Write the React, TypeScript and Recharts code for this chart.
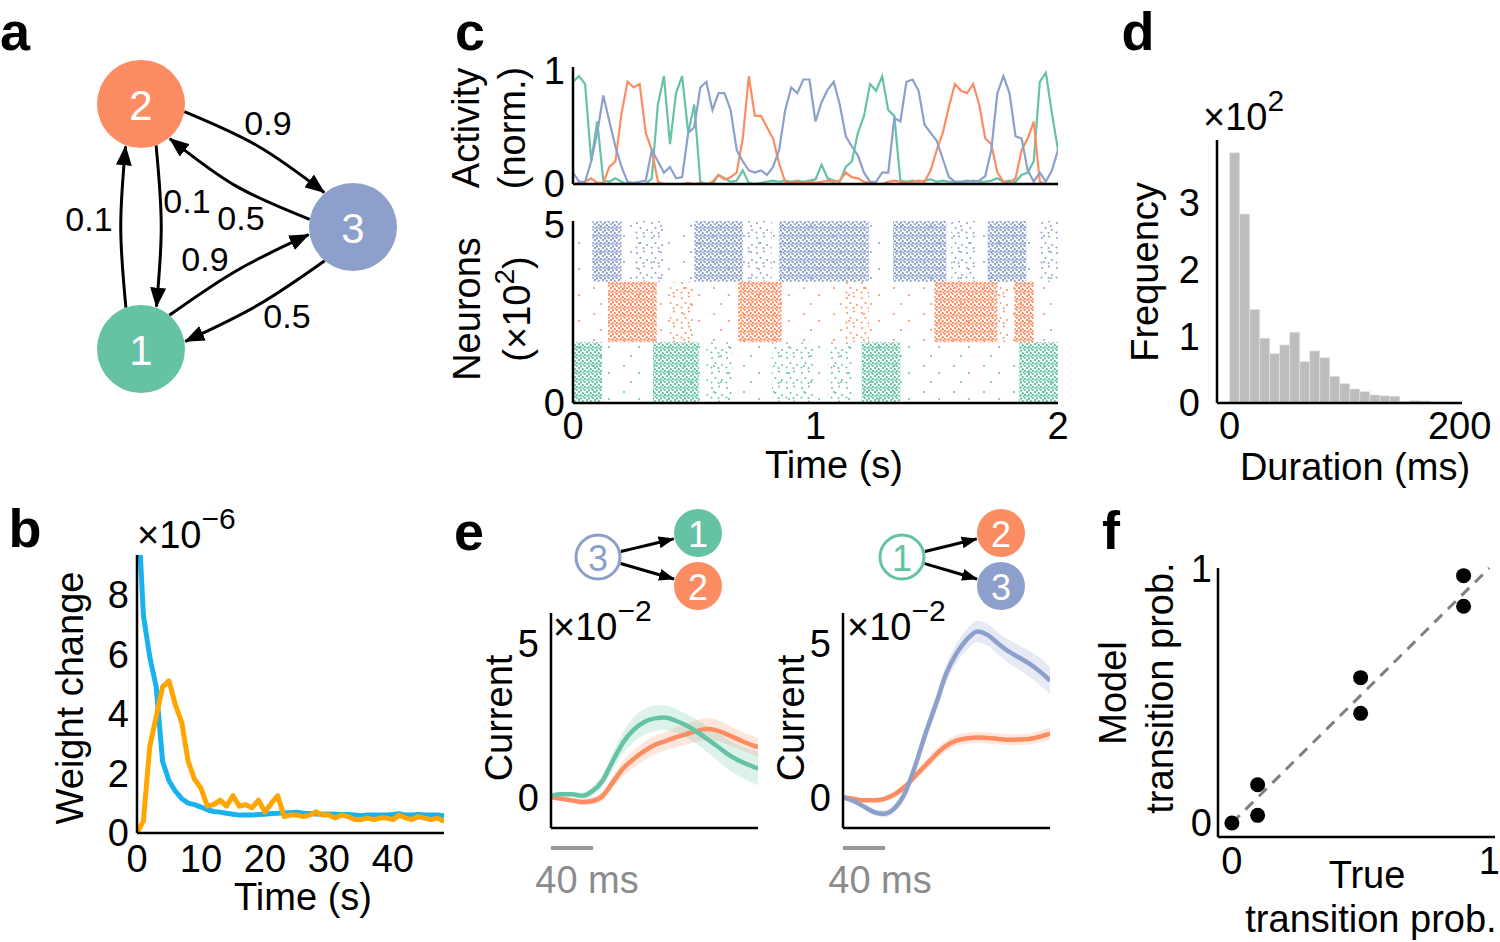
import React from "react";
import {
  ComposedChart,
  LineChart,
  Line,
  Bar,
  Area,
  Scatter,
  XAxis,
  YAxis,
  ReferenceArea,
  ReferenceLine,
} from "recharts";

const FONT = '"Liberation Sans", Arial, Helvetica, sans-serif';
const GREEN = "#66c2a5";
const ORANGE = "#fc8d62";
const BLUE = "#8da0cb";

// ---- panel a: transition graph ----
const graphNodes = [
  { id: "2", x: 141, y: 104, r: 44 },
  { id: "3", x: 353, y: 227, r: 44 },
  { id: "1", x: 141, y: 349, r: 44 },
];
const graphEdges = [
  { from: "2", to: "3", p: "0.9", bend: 7, lx: 268, ly: 123 },
  { from: "3", to: "2", p: "0.5", bend: 8, lx: 241, ly: 218 },
  { from: "2", to: "1", p: "0.1", bend: 5, lx: 187, ly: 201 },
  { from: "1", to: "2", p: "0.1", bend: 5, lx: 89, ly: 219 },
  { from: "1", to: "3", p: "0.9", bend: 5, lx: 205, ly: 259 },
  { from: "3", to: "1", p: "0.5", bend: 5, lx: 287, ly: 316 },
];

// ---- panel b: weight change ----
const weightTime = [
  0, 1, 2, 3, 4, 5, 6, 7, 8, 9, 10, 11, 12, 13, 14, 15, 16, 17, 18, 19, 20, 21, 22, 23, 24,
  25, 26, 27, 28, 29, 30, 31, 32, 33, 34, 35, 36, 37, 38, 39, 40, 41, 42, 43, 44, 45, 46, 47, 48,
];
const weightBlue = [
  11.5, 7.3, 5.9, 4.9, 2.4, 1.75, 1.4, 1.15, 1.0, 0.95, 0.87, 0.78, 0.72, 0.7, 0.66, 0.63, 0.6,
  0.6, 0.6, 0.62, 0.63, 0.65, 0.66, 0.68, 0.68, 0.7, 0.66, 0.65, 0.64, 0.63, 0.64, 0.63, 0.62,
  0.62, 0.6, 0.58, 0.6, 0.6, 0.6, 0.6, 0.62, 0.65, 0.6, 0.6, 0.62, 0.6, 0.6, 0.6, 0.58,
];
const weightOrange = [
  0, 0.4, 2.9, 3.9, 4.9, 5.1, 4.3, 3.7, 2.4, 1.8, 1.5, 0.9, 0.95, 1.1, 0.9, 1.25, 0.9, 0.95,
  0.85, 1.1, 0.7, 1.0, 1.25, 0.55, 0.6, 0.6, 0.55, 0.6, 0.7, 0.6, 0.6, 0.5, 0.6, 0.55, 0.45,
  0.45, 0.5, 0.45, 0.5, 0.5, 0.45, 0.6, 0.5, 0.45, 0.55, 0.5, 0.45, 0.5, 0.38,
];
const weightTicksX = [0, 10, 20, 30, 40];
const weightTicksY = [0, 2, 4, 6, 8];

// ---- panel c: activity (sampled every 25 ms) ----
const ACT_STEP = 0.025;
const actGreen = [
  0.9, 0.95, 0.88, 0.2, 0.55, 0.03, 0.02, 0.05, 0.02, 0.0,
  0.0, 0.0, 0.0, 0.05, 0.7, 0.95, 0.35, 0.8, 0.95, 0.45,
  0.7, 0.02, 0.0, 0.0, 0.08, 0.05, 0.02, 0.03, 0.12, 0.01,
  0.0, 0.01, 0.02, 0.03, 0.02, 0.03, 0.02, 0.03, 0.02, 0.03,
  0.04, 0.17, 0.05, 0.03, 0.02, 0.15, 0.2, 0.45, 0.6, 0.88,
  0.82, 0.95, 0.65, 0.6, 0.03, 0.02, 0.03, 0.02, 0.03, 0.04,
  0.02, 0.03, 0.02, 0.02, 0.02, 0.02, 0.03, 0.02, 0.02, 0.03,
  0.05, 0.02, 0.03, 0.02, 0.08, 0.1, 0.2, 0.9, 0.98, 0.62,
  0.3,
];
const actOrange = [
  0.0, 0.01, 0.02, 0.05, 0.01, 0.01, 0.15, 0.2, 0.62, 0.9,
  0.85, 0.88, 0.45, 0.3, 0.02, 0.0, 0.0, 0.0, 0.0, 0.01,
  0.0, 0.01, 0.0, 0.02, 0.08, 0.04, 0.06, 0.1, 0.4, 0.95,
  0.6, 0.6, 0.5, 0.4, 0.18, 0.02, 0.01, 0.02, 0.01, 0.02,
  0.01, 0.02, 0.03, 0.02, 0.03, 0.1, 0.06, 0.05, 0.02, 0.01,
  0.0, 0.0, 0.02, 0.03, 0.02, 0.01, 0.02, 0.03, 0.02, 0.12,
  0.3, 0.45, 0.68, 0.88, 0.82, 0.8, 0.88, 0.7, 0.4, 0.35,
  0.1, 0.02, 0.01, 0.05, 0.3, 0.4, 0.55, 0.02, 0.0, 0.0,
  0.0,
];
const actBlue = [
  0.1, 0.02, 0.02, 0.2, 0.45, 0.78, 0.55, 0.33, 0.15, 0.02,
  0.01, 0.02, 0.03, 0.3, 0.2, 0.1, 0.15, 0.05, 0.06, 0.45,
  0.5, 0.85, 0.9, 0.65, 0.8, 0.8, 0.65, 0.3, 0.2, 0.12,
  0.1, 0.12, 0.08, 0.15, 0.3, 0.65, 0.85, 0.8, 0.92, 0.92,
  0.55, 0.72, 0.83, 0.9, 0.7, 0.42, 0.33, 0.25, 0.1, 0.02,
  0.02, 0.1, 0.1, 0.58, 0.55, 0.9, 0.92, 0.82, 0.52, 0.45,
  0.38, 0.22, 0.06, 0.02, 0.02, 0.03, 0.02, 0.03, 0.07, 0.3,
  0.8, 0.95, 0.8, 0.42, 0.4, 0.12, 0.02, 0.1, 0.02, 0.12,
  0.3,
];

// ---- panel c: raster (neuron index bands in units of 10^2, burst windows in s) ----
const rasterBands = { g: [0, 1.7], o: [1.7, 3.4], b: [3.4, 5.1] };
const denseBursts = {
  g: [[0, 0.12], [0.33, 0.52], [1.19, 1.35], [1.84, 2.0]],
  o: [[0.145, 0.345], [0.68, 0.86], [1.49, 1.75], [1.82, 1.9]],
  b: [[0.08, 0.2], [0.5, 0.7], [0.85, 1.22], [1.32, 1.54], [1.71, 1.87]],
};
const mediumBursts = {
  g: [[0.55, 0.66], [0.82, 1.0], [1.05, 1.15]],
  o: [[0.4, 0.5], [1.12, 1.22], [1.76, 1.8]],
  b: [[0.25, 0.38], [0.72, 0.82], [1.56, 1.66], [1.92, 2.0]],
};

// ---- panel d: state durations ----
const durationBins = [4, 13, 22, 30, 39, 48, 57, 65, 74, 83, 91, 100, 109, 118, 126, 135, 144, 152, 161, 170, 179, 187];
const durationFreq = [
  3.75, 2.83, 1.4, 0.97, 0.74, 0.87, 1.06, 0.62, 0.78, 0.68, 0.4, 0.29, 0.21, 0.17, 0.12, 0.11,
  0.1, 0.02, 0.035, 0.03, 0.015, 0.015,
];
const BIN_WIDTH = 8.7;
const durationDomain = [-11, 202];
const durationTicks = [0, 200];

// ---- panel e: currents (mean and s.e.m.) ----
const curTime = [0, 10, 20, 30, 40, 50, 60, 70, 80, 90, 100, 110, 120, 130, 140, 150, 160, 170, 180, 190, 200];
const leftGreen = [0.05, 0.1, 0.1, 0.05, 0.2, 0.55, 1.2, 1.8, 2.2, 2.45, 2.57, 2.6, 2.5, 2.35, 2.15, 1.92, 1.68, 1.42, 1.22, 1.07, 0.93];
const leftGreenSe = [0.06, 0.07, 0.08, 0.1, 0.14, 0.2, 0.28, 0.35, 0.4, 0.42, 0.42, 0.4, 0.38, 0.38, 0.4, 0.42, 0.45, 0.48, 0.5, 0.52, 0.55];
const leftOrange = [0, -0.05, -0.1, -0.15, -0.12, 0.05, 0.5, 0.95, 1.25, 1.5, 1.7, 1.82, 1.95, 2.05, 2.15, 2.22, 2.18, 2.05, 1.9, 1.75, 1.63];
const leftOrangeSe = [0.06, 0.07, 0.08, 0.1, 0.12, 0.15, 0.2, 0.25, 0.28, 0.3, 0.3, 0.3, 0.32, 0.34, 0.36, 0.36, 0.34, 0.32, 0.3, 0.3, 0.3];
const rightBlue = [0, -0.12, -0.3, -0.48, -0.54, -0.35, 0.15, 1.05, 2.1, 3.05, 4.05, 4.7, 5.15, 5.4, 5.28, 5.0, 4.75, 4.55, 4.35, 4.1, 3.8];
const rightBlueSe = [0.05, 0.06, 0.08, 0.1, 0.12, 0.14, 0.18, 0.22, 0.26, 0.28, 0.3, 0.32, 0.34, 0.35, 0.35, 0.36, 0.38, 0.4, 0.42, 0.44, 0.45];
const rightOrange = [0, -0.05, -0.1, -0.1, -0.05, 0.1, 0.35, 0.7, 1.05, 1.4, 1.68, 1.85, 1.92, 1.95, 1.93, 1.9, 1.87, 1.88, 1.9, 1.97, 2.07];
const rightOrangeSe = [0.05, 0.05, 0.06, 0.07, 0.08, 0.1, 0.12, 0.14, 0.16, 0.18, 0.18, 0.18, 0.18, 0.18, 0.18, 0.18, 0.18, 0.18, 0.18, 0.19, 0.2];

const insetLeftNodes = [
  { id: "3", x: 598, y: 557, r: 22, filled: false },
  { id: "1", x: 698, y: 533, r: 24, filled: true },
  { id: "2", x: 698, y: 586, r: 24, filled: true },
];
const insetLeftEdges = [
  { from: "3", to: "1", bend: 0 },
  { from: "3", to: "2", bend: 0 },
];
const insetRightNodes = [
  { id: "1", x: 902, y: 557, r: 22, filled: false },
  { id: "2", x: 1001, y: 533, r: 24, filled: true },
  { id: "3", x: 1001, y: 586, r: 24, filled: true },
];
const insetRightEdges = [
  { from: "1", to: "2", bend: 0 },
  { from: "1", to: "3", bend: 0 },
];

// ---- panel f: transition probabilities ----
const trueProb = [0, 0.1, 0.1, 0.5, 0.5, 0.9, 0.9];
const modelProb = [0.0, 0.03, 0.15, 0.57, 0.43, 0.97, 0.85];

// ---------------------------------------------------------------
const NODE_COLOR: Record<string, string> = { "1": GREEN, "2": ORANGE, "3": BLUE };
const POP_COLOR: Record<string, string> = { g: GREEN, o: ORANGE, b: BLUE };
const AX = { stroke: "#000", strokeWidth: 2.5 };
const TICK = { fontSize: 38, fill: "#000", fontFamily: FONT };

const weightRows = weightTime.map((t, i) => ({ t, blue: weightBlue[i], orange: weightOrange[i] }));
const actRows = actGreen.map((g, i) => ({ t: i * ACT_STEP, g, o: actOrange[i], b: actBlue[i] }));
const histRows = durationBins.map((c, i) => ({ c, f: durationFreq[i] }));
const leftRows = curTime.map((t, i) => ({
  t, a: leftGreen[i], aLo: leftGreen[i] - leftGreenSe[i], aHi: leftGreen[i] + leftGreenSe[i],
  b: leftOrange[i], bLo: leftOrange[i] - leftOrangeSe[i], bHi: leftOrange[i] + leftOrangeSe[i],
}));
const rightRows = curTime.map((t, i) => ({
  t, a: rightBlue[i], aLo: rightBlue[i] - rightBlueSe[i], aHi: rightBlue[i] + rightBlueSe[i],
  b: rightOrange[i], bLo: rightOrange[i] - rightOrangeSe[i], bHi: rightOrange[i] + rightOrangeSe[i],
}));
const probRows = trueProb.map((x, i) => ({ x, y: modelProb[i] }));

function Txt({ x, y, size = 38, rot = 0, color = "#000", bold = false, left = false, children }: any) {
  return (
    <div
      style={{
        position: "absolute",
        left: x,
        top: y,
        transform: `translate(${left ? "0" : "-50%"},-50%) rotate(${rot}deg)`,
        fontFamily: FONT,
        fontSize: size,
        color,
        fontWeight: bold ? 700 : 400,
        lineHeight: 1,
        whiteSpace: "nowrap",
      }}
    >
      {children}
    </div>
  );
}

function Sup({ children, size = 30, lift = 19 }: any) {
  return <span style={{ fontSize: size, position: "relative", top: -lift }}>{children}</span>;
}

function renderNode(props: any) {
  const { cx, cy, payload } = props;
  const col = NODE_COLOR[payload.id];
  const filled = payload.filled !== false;
  return (
    <g>
      <circle cx={cx} cy={cy} r={payload.r} fill={filled ? col : "#fff"} stroke={col} strokeWidth={filled ? 0 : 3} />
      <text
        x={cx}
        y={cy + 1}
        textAnchor="middle"
        dominantBaseline="central"
        fill={filled ? "#fff" : col}
        fontSize={payload.r > 30 ? 42 : 36}
        fontFamily={FONT}
      >
        {payload.id}
      </text>
    </g>
  );
}

function renderEdgeLabel(props: any) {
  const { cx, cy, payload } = props;
  return (
    <text x={cx} y={cy} textAnchor="middle" dominantBaseline="central" fontSize={34} fontFamily={FONT} fill="#000">
      {payload.p}
    </text>
  );
}

function Diagram({ left, top, width, height, nodes, edges, theta, marker }: any) {
  const byId: Record<string, any> = {};
  nodes.forEach((n: any) => (byId[n.id] = n));
  const curves = edges.map((e: any) => {
    const a = byId[e.from];
    const b = byId[e.to];
    const len = Math.hypot(b.x - a.x, b.y - a.y);
    const ux = (b.x - a.x) / len;
    const uy = (b.y - a.y) / len;
    const nx = uy;
    const ny = -ux;
    const c = Math.cos(theta);
    const s = Math.sin(theta);
    const ra = a.r + (a.filled === false ? 1.5 : 0);
    const rb = b.r + (b.filled === false ? 1.5 : 0) + 1;
    const p0 = { x: a.x + ra * (c * ux + s * nx), y: a.y + ra * (c * uy + s * ny) };
    const p2 = { x: b.x + rb * (-c * ux + s * nx), y: b.y + rb * (-c * uy + s * ny) };
    const p1 = { x: (p0.x + p2.x) / 2 + nx * e.bend, y: (p0.y + p2.y) / 2 + ny * e.bend };
    return [p0, p1, p2];
  });
  const labels = edges.filter((e: any) => e.p).map((e: any) => ({ x: e.lx, y: e.ly, p: e.p }));
  return (
    <div style={{ position: "absolute", left, top }}>
      <ComposedChart width={width} height={height} margin={{ top: 0, right: 0, bottom: 0, left: 0 }}>
        <XAxis type="number" dataKey="x" domain={[left, left + width]} hide allowDataOverflow />
        <YAxis type="number" domain={[top, top + height]} reversed hide allowDataOverflow />
        {curves.map((pts: any, i: number) => (
          <Line
            key={i}
            data={pts}
            dataKey="y"
            type="natural"
            stroke="#000"
            strokeWidth={3}
            dot={false}
            activeDot={false}
            isAnimationActive={false}
            markerEnd={`url(#${marker})`}
          />
        ))}
        <Scatter data={nodes} dataKey="y" shape={renderNode} isAnimationActive={false} />
        {labels.length > 0 && <Scatter data={labels} dataKey="y" shape={renderEdgeLabel} isAnimationActive={false} />}
      </ComposedChart>
    </div>
  );
}

function Patterns() {
  const dense = [[1, 1.5], [4.6, 0.7], [6.9, 3.1], [2.8, 4.2], [0.6, 6.3], [5.2, 5.9], [7.6, 7.4], [3.4, 7.6]];
  const medium = [[2, 3], [9, 1.5], [5.5, 8], [12, 10], [1.5, 12.5], [8.5, 13]];
  const sparse = [[4, 5], [19, 12], [11, 21]];
  return (
    <>
      {Object.keys(POP_COLOR).map((k) => (
        <React.Fragment key={k}>
          <pattern id={`dense-${k}`} width={8} height={8} patternUnits="userSpaceOnUse">
            {dense.map(([x, y], i) => <circle key={i} cx={x} cy={y} r={1.2} fill={POP_COLOR[k]} />)}
          </pattern>
          <pattern id={`medium-${k}`} width={15} height={15} patternUnits="userSpaceOnUse">
            {medium.map(([x, y], i) => <circle key={i} cx={x} cy={y} r={1} fill={POP_COLOR[k]} />)}
          </pattern>
          <pattern id={`sparse-${k}`} width={30} height={26} patternUnits="userSpaceOnUse">
            {sparse.map(([x, y], i) => <circle key={i} cx={x} cy={y} r={1} fill={POP_COLOR[k]} />)}
          </pattern>
        </React.Fragment>
      ))}
    </>
  );
}

function CurrentPanel({ left, rows, colA, colB }: any) {
  return (
    <div style={{ position: "absolute", left, top: 600 }}>
      <ComposedChart width={283} height={229} data={rows} margin={{ top: 13, right: 5, bottom: 0, left: 0 }}>
        <XAxis type="number" dataKey="t" domain={[0, 200]} tick={false} tickLine={false} axisLine={AX} height={1} allowDataOverflow />
        <YAxis type="number" domain={[-1, 6]} ticks={[0, 5]} interval={0} axisLine={AX} tickLine={false} tick={TICK} tickMargin={6} width={71} allowDataOverflow />
        <Area dataKey={(r: any) => [r.bLo, r.bHi]} type="monotone" fill={colB} fillOpacity={0.22} stroke="none" isAnimationActive={false} />
        <Area dataKey={(r: any) => [r.aLo, r.aHi]} type="monotone" fill={colA} fillOpacity={0.22} stroke="none" isAnimationActive={false} />
        <Line dataKey="b" type="monotone" stroke={colB} strokeWidth={4.5} dot={false} isAnimationActive={false} />
        <Line dataKey="a" type="monotone" stroke={colA} strokeWidth={4.5} dot={false} isAnimationActive={false} />
      </ComposedChart>
    </div>
  );
}

export default function App() {
  // histogram geometry: category band axis for the bins, numeric axis for the ms ticks
  const histW = 342;
  const histYW = 87;
  const histMR = 10;
  const histPlotW = histW - histYW - histMR;
  const pxPerMs = histPlotW / (durationDomain[1] - durationDomain[0]);
  const binPadL = (0 - durationDomain[0]) * pxPerMs;
  const binPadR = (durationDomain[1] - durationBins.length * BIN_WIDTH) * pxPerMs;
  return (
    <div style={{ position: "absolute", left: 0, top: 0, width: 1500, height: 942, background: "#fff", overflow: "hidden" }}>
      <style>{`.recharts-surface{overflow:visible}`}</style>
      <svg width={0} height={0} style={{ position: "absolute" }}>
        <defs>
          <marker id="arrowBig" viewBox="0 0 20 16" markerWidth={20} markerHeight={16} refX={19} refY={8} orient="auto" markerUnits="userSpaceOnUse">
            <path d="M0,0 L20,8 L0,16 Z" fill="#000" />
          </marker>
          <marker id="arrowSmall" viewBox="0 0 16 12" markerWidth={16} markerHeight={12} refX={15} refY={6} orient="auto" markerUnits="userSpaceOnUse">
            <path d="M0,0 L16,6 L0,12 Z" fill="#000" />
          </marker>
          <Patterns />
        </defs>
      </svg>

      {/* panel letters */}
      <Txt x={15} y={31} size={54} bold>a</Txt>
      <Txt x={25} y={528} size={54} bold>b</Txt>
      <Txt x={470} y={31} size={54} bold>c</Txt>
      <Txt x={1138} y={31} size={54} bold>d</Txt>
      <Txt x={469} y={531} size={54} bold>e</Txt>
      <Txt x={1111} y={530} size={54} bold>f</Txt>

      {/* a */}
      <Diagram left={0} top={0} width={440} height={420} nodes={graphNodes} edges={graphEdges} theta={0.35} marker="arrowBig" />

      {/* b */}
      <div style={{ position: "absolute", left: 60, top: 540 }}>
        <LineChart width={390} height={343} data={weightRows} margin={{ top: 15, right: 6, bottom: 0, left: 0 }}>
          <XAxis type="number" dataKey="t" domain={[0, 48]} ticks={weightTicksX} interval={0} axisLine={AX} tickLine={false} tick={TICK} tickMargin={6} height={50} allowDataOverflow />
          <YAxis type="number" domain={[0, 9.32]} ticks={weightTicksY} interval={0} axisLine={AX} tickLine={false} tick={TICK} tickMargin={2} width={77} allowDataOverflow />
          <Line dataKey="blue" type="linear" stroke="#1ab2ee" strokeWidth={5} strokeLinejoin="round" dot={false} isAnimationActive={false} />
          <Line dataKey="orange" type="linear" stroke="#ffa500" strokeWidth={5} strokeLinejoin="round" dot={false} isAnimationActive={false} />
        </LineChart>
      </div>
      <Txt x={137} y={535} left>
        ×10<Sup>−6</Sup>
      </Txt>
      <Txt x={70} y={698} rot={-90}>Weight change</Txt>
      <Txt x={303} y={897}>Time (s)</Txt>

      {/* c activity */}
      <div style={{ position: "absolute", left: 500, top: 55 }}>
        <LineChart width={566} height={130} data={actRows} margin={{ top: 12, right: 8, bottom: 0, left: 0 }}>
          <XAxis type="number" dataKey="t" domain={[0, 2]} tick={false} tickLine={false} axisLine={AX} height={1} allowDataOverflow />
          <YAxis type="number" domain={[0, 1.03]} ticks={[0, 1]} interval={0} axisLine={AX} tickLine={false} tick={TICK} tickMargin={2} width={73} allowDataOverflow />
          <Line dataKey="g" type="linear" stroke={GREEN} strokeWidth={2.2} dot={false} isAnimationActive={false} />
          <Line dataKey="o" type="linear" stroke={ORANGE} strokeWidth={2.2} dot={false} isAnimationActive={false} />
          <Line dataKey="b" type="linear" stroke={BLUE} strokeWidth={2.2} dot={false} isAnimationActive={false} />
        </LineChart>
      </div>
      <Txt x={466} y={128} rot={-90}>Activity</Txt>
      <Txt x={512} y={128} rot={-90}>(norm.)</Txt>

      {/* c raster */}
      <div style={{ position: "absolute", left: 500, top: 205 }}>
        <ComposedChart width={566} height={248} data={actRows} margin={{ top: 16, right: 8, bottom: 0, left: 0 }}>
          <XAxis type="number" dataKey="t" domain={[0, 2]} ticks={[0, 1, 2]} interval={0} axisLine={AX} tickLine={false} tick={TICK} tickMargin={3} height={50} allowDataOverflow />
          <YAxis type="number" domain={[0, 5.1]} ticks={[0, 5]} interval={0} axisLine={AX} tickLine={false} tick={TICK} tickMargin={2} width={73} allowDataOverflow />
          {Object.entries(rasterBands).map(([k, [lo, hi]]) => (
            <ReferenceArea key={`s${k}`} x1={0} x2={2} y1={lo} y2={hi} fill={`url(#sparse-${k})`} fillOpacity={1} stroke="none" />
          ))}
          {Object.entries(mediumBursts).flatMap(([k, list]) =>
            list.map(([a, b], i) => (
              <ReferenceArea key={`m${k}${i}`} x1={a} x2={b} y1={(rasterBands as any)[k][0]} y2={(rasterBands as any)[k][1]} fill={`url(#medium-${k})`} fillOpacity={1} stroke="none" />
            ))
          )}
          {Object.entries(denseBursts).flatMap(([k, list]) =>
            list.map(([a, b], i) => (
              <ReferenceArea key={`d${k}${i}`} x1={a} x2={b} y1={(rasterBands as any)[k][0]} y2={(rasterBands as any)[k][1]} fill={`url(#dense-${k})`} fillOpacity={1} stroke="none" />
            ))
          )}
        </ComposedChart>
      </div>
      <Txt x={467} y={309} rot={-90}>Neurons</Txt>
      <Txt x={517} y={309} rot={-90}>
        (×10<Sup size={28} lift={16}>2</Sup>)
      </Txt>
      <Txt x={834} y={465}>Time (s)</Txt>

      {/* d */}
      <div style={{ position: "absolute", left: 1130, top: 125 }}>
        <ComposedChart width={histW} height={328} data={histRows} margin={{ top: 15, right: histMR, bottom: 0, left: 0 }} barCategoryGap={0} barGap={0}>
          <XAxis xAxisId="ms" type="number" dataKey="c" domain={durationDomain} ticks={durationTicks} interval={0} axisLine={AX} tickLine={false} tick={TICK} tickMargin={3} height={50} allowDataOverflow />
          <XAxis xAxisId="bins" type="category" dataKey="c" hide height={0} padding={{ left: binPadL, right: binPadR }} />
          <YAxis type="number" domain={[0, 3.94]} ticks={[0, 1, 2, 3]} interval={0} axisLine={AX} tickLine={false} tick={TICK} tickMargin={11} width={histYW} allowDataOverflow />
          <Bar xAxisId="bins" dataKey="f" fill="#bdbdbd" stroke="#e6e6e6" strokeWidth={0.6} isAnimationActive={false} />
        </ComposedChart>
      </div>
      <Txt x={1203} y={117} left>
        ×10<Sup>2</Sup>
      </Txt>
      <Txt x={1145} y={272} rot={-90}>Frequency</Txt>
      <Txt x={1355} y={467}>Duration (ms)</Txt>

      {/* e */}
      <Diagram left={560} top={500} width={180} height={115} nodes={insetLeftNodes} edges={insetLeftEdges} theta={0} marker="arrowSmall" />
      <Diagram left={860} top={500} width={180} height={115} nodes={insetRightNodes} edges={insetRightEdges} theta={0} marker="arrowSmall" />
      <CurrentPanel left={480} rows={leftRows} colA={GREEN} colB={ORANGE} />
      <CurrentPanel left={772} rows={rightRows} colA={BLUE} colB={ORANGE} />
      <Txt x={553} y={627} left>
        ×10<Sup>−2</Sup>
      </Txt>
      <Txt x={847} y={627} left>
        ×10<Sup>−2</Sup>
      </Txt>
      <Txt x={499} y={718} rot={-90}>Current</Txt>
      <Txt x={791} y={718} rot={-90}>Current</Txt>
      <div style={{ position: "absolute", left: 551, top: 846, width: 42, height: 4, background: "#999" }} />
      <div style={{ position: "absolute", left: 843, top: 846, width: 42, height: 4, background: "#999" }} />
      <Txt x={587} y={880} color="#8c8c8c">40 ms</Txt>
      <Txt x={880} y={880} color="#8c8c8c">40 ms</Txt>

      {/* f */}
      <div style={{ position: "absolute", left: 1150, top: 550 }}>
        <ComposedChart width={349} height={332} margin={{ top: 18, right: 4, bottom: 0, left: 0 }}>
          <XAxis type="number" dataKey="x" domain={[-0.054, 1.022]} ticks={[0, 1]} interval={0} axisLine={AX} tickLine={false} tick={TICK} tickMargin={4} height={45} allowDataOverflow />
          <YAxis type="number" domain={[-0.055, 1.0]} ticks={[0, 1]} interval={0} axisLine={AX} tickLine={false} tick={TICK} tickMargin={0} width={68} allowDataOverflow />
          <ReferenceLine segment={[{ x: 0, y: 0 }, { x: 1, y: 1 }]} stroke="#808080" strokeWidth={3} strokeDasharray="11 8" />
          <Scatter
            data={probRows}
            dataKey="y"
            isAnimationActive={false}
            shape={(p: any) => <circle cx={p.cx} cy={p.cy} r={7.5} fill="#000" />}
          />
        </ComposedChart>
      </div>
      <Txt x={1113} y={693} rot={-90}>Model</Txt>
      <Txt x={1160} y={688} rot={-90}>transition prob.</Txt>
      <Txt x={1367} y={875}>True</Txt>
      <Txt x={1371} y={919}>transition prob.</Txt>
    </div>
  );
}
